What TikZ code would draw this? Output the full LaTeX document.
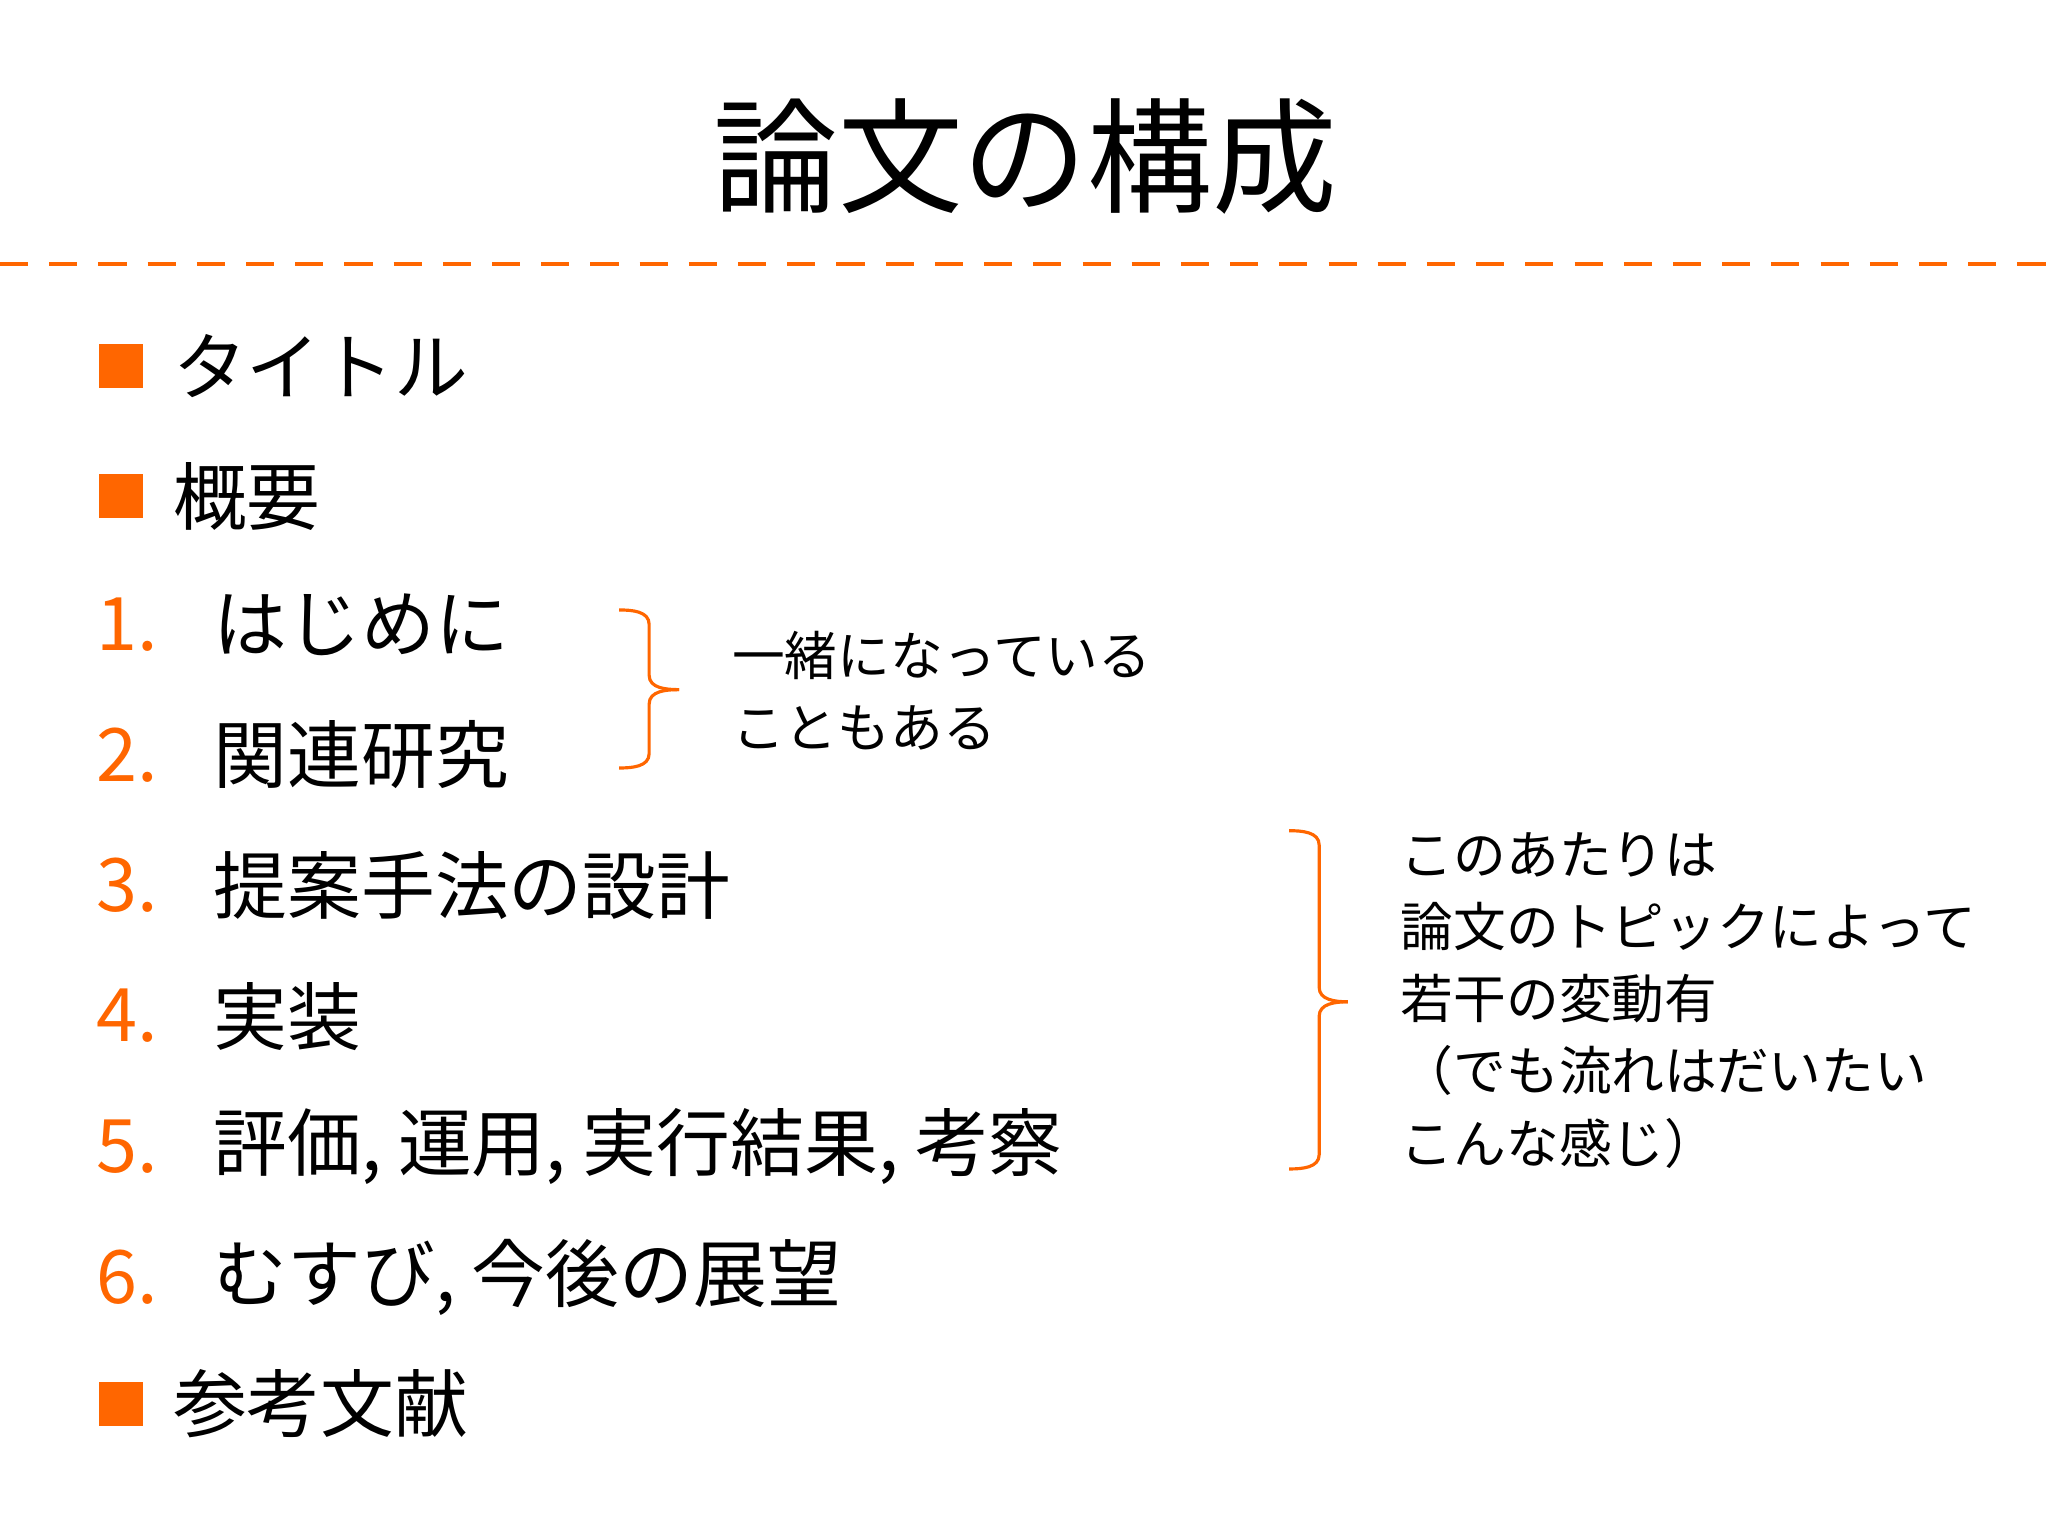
\documentclass[tikz,border=0pt]{standalone}
\usepackage{fontspec}
\setmainfont{Noto Sans CJK JP}
\definecolor{og}{HTML}{FF6600}
\begin{document}
\begin{tikzpicture}[x=0.01306cm,y=-0.01306cm,
  item/.style={anchor=west,inner sep=0,font=\fontsize{21}{24}\selectfont},
  num/.style={anchor=west,inner sep=0,text=og,font=\fontsize{21}{24}\selectfont},
  sq/.style={fill=og,minimum size=0.44cm,inner sep=0},
  note/.style={anchor=west,inner sep=0,align=left,font=\fontsize{15}{20.5}\selectfont},
  brk/.style={draw=og,line width=0.9pt}]
\useasboundingbox (0,0) rectangle (1568,1176);
\node[inner sep=0,font=\fontsize{35.5}{40}\selectfont] (title) at (785,120) {論文の構成};
\coordinate (dl) at (0,202); \coordinate (dr) at (1568,202);
\draw[og,line width=1.3pt,dash pattern=on 8pt off 6pt] (dl) -- (dr);
\node[sq] (s1) at (93,280) {}; \node[item] (t1) at (132,280) {タイトル};
\node[sq] (s2) at (93,380) {}; \node[item] (t2) at (132,380) {概要};
\node[num] (n1) at (73,478) {1.}; \node[item] (i1) at (163,478) {はじめに};
\node[num] (n2) at (73,578) {2.}; \node[item] (i2) at (163,578) {関連研究};
\node[num] (n3) at (73,678) {3.}; \node[item] (i3) at (163,678) {提案手法の設計};
\node[num] (n4) at (73,778) {4.}; \node[item] (i4) at (163,778) {実装};
\node[num] (n5) at (73,878) {5.}; \node[item] (i5) at (163,878) {評価, 運用, 実行結果, 考察};
\node[num] (n6) at (73,978) {6.}; \node[item] (i6) at (163,978) {むすび, 今後の展望};
\node[sq] (s3) at (93,1075) {}; \node[item] (t3) at (132,1075) {参考文献};
% bracket 1
\draw[brk] (474,467) to[out=0,in=90] (497,478) -- (497,517) to[out=-90,in=180] (520,528);
\draw[brk] (474,588) to[out=0,in=-90] (497,577) -- (497,539) to[out=90,in=180] (520,528);
\node[note] (b1) at (560,529) {一緒になっている\\こともある};
% bracket 2
\draw[brk] (987,636) to[out=0,in=90] (1010,647) -- (1010,756) to[out=-90,in=180] (1032,767);
\draw[brk] (987,895) to[out=0,in=-90] (1010,884) -- (1010,778) to[out=90,in=180] (1032,767);
\node[note] (b2) at (1072,766) {このあたりは\\論文のトピックによって\\若干の変動有\\（でも流れはだいたい\\こんな感じ）};
\end{tikzpicture}
\end{document}
